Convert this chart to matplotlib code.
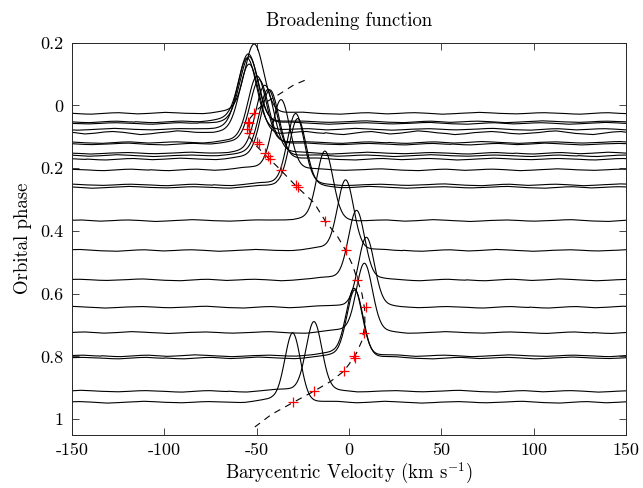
import numpy as np
import matplotlib
matplotlib.use("Agg")
import matplotlib.pyplot as plt

plt.rcParams['font.family'] = 'serif'
plt.rcParams['font.serif'] = ['cmr10']
plt.rcParams['mathtext.fontset'] = 'cm'
plt.rcParams['axes.unicode_minus'] = False
plt.rcParams['axes.formatter.use_mathtext'] = True

# ---- data ----
# broadening-function profiles: baseline phase, peak velocity (km/s), peak height (phase units), width (km/s)
bf_phase = [0.025, 0.052, 0.057, 0.076, 0.087, 0.118, 0.123, 0.152, 0.160, 0.171, 0.205, 0.253, 0.261,
            0.367, 0.462, 0.556, 0.643, 0.724, 0.798, 0.805, 0.911, 0.946]
bf_vel = [-51.3, -54.5, -54.0, -55.1, -54.0, -49.7, -48.6, -45.5, -43.7, -42.8, -36.8, -28.9, -27.8,
          -13.0, -1.8, 4.1, 9.4, 8.3, 2.8, 3.2, -19.0, -30.5]
bf_height = [0.210, 0.205, 0.200, 0.215, 0.205, 0.200, 0.195, 0.205, 0.200, 0.210, 0.215, 0.215, 0.210,
             0.209, 0.215, 0.212, 0.211, 0.210, 0.205, 0.207, 0.209, 0.210]
bf_width = [5.0, 5.0, 5.0, 5.0, 5.0, 4.8, 4.8, 4.8, 4.8, 4.8, 4.6, 4.5, 4.5,
            4.3, 4.3, 4.3, 4.3, 4.3, 4.3, 4.3, 4.2, 4.2]

# baseline ripple (1e-3 phase units) every 5 km/s from -150 to 150
ripple_v = list(range(-150, 155, 5))
ripple = [0, 2, 3, 1, -1, -2, 0, 2, 1, -1, -3, -2, 0, 1, 3, 2, 0, -1, -2, -1, 1, 2, 1, 0, -2, -3, -1, 1, 2, 3, 1,
          -1, -2, 0, 2, 1, -1, -2, -1, 1, 3, 2, 0, -1, -3, -2, 0, 1, 2, 1, -1, -2, -1, 0, 2, 3, 1, -1, -2, 0, 1]

# measured radial velocities (red crosses)
rv_vel = [-51.3, -54.5, -54.0, -55.1, -54.0, -49.7, -48.6, -45.5, -43.7, -42.8, -36.8, -28.9, -27.8,
          -13.0, -1.8, 4.1, 9.4, 8.3, 2.8, 3.2, -2.6, -19.0, -30.5]
rv_phase = [0.025, 0.052, 0.057, 0.076, 0.087, 0.118, 0.123, 0.152, 0.160, 0.171, 0.205, 0.253, 0.261,
            0.367, 0.462, 0.556, 0.643, 0.724, 0.798, 0.805, 0.848, 0.911, 0.946]

# orbital solution (dashed)
orb_phase = [-0.08, -0.065, -0.035, -0.01, 0.015, 0.04, 0.07, 0.10, 0.13, 0.16, 0.20, 0.255, 0.31, 0.367,
             0.42, 0.462, 0.51, 0.556, 0.60, 0.65, 0.70, 0.75, 0.79, 0.825, 0.848, 0.88, 0.911, 0.946, 0.985, 1.025]
orb_vel = [-24, -30, -38, -45, -50, -53.5, -55, -54, -50, -45, -38, -29, -19, -13,
           -6, -1.8, 2, 4.5, 7, 8.5, 8.6, 7, 4, 0, -3, -10, -19, -30, -42, -51]

yticks = [-0.2, 0, 0.2, 0.4, 0.6, 0.8, 1]
ytick_labels = ['0.2', '0', '0.2', '0.4', '0.6', '0.8', '1']
xticks = [-150, -100, -50, 0, 50, 100, 150]
xtick_labels = ['-150', '-100', '-50', '0', '50', '100', '150']

# ---- figure ----
fig = plt.figure(figsize=(6.43, 4.88), dpi=100)
ax = fig.add_axes([0.112, 0.109, 0.8616, 0.8035])

v = np.linspace(-150, 150, 1201)
rip = np.interp(v, ripple_v, ripple) * 1e-3
n = len(v)
for i, (ph, vc, h, w) in enumerate(zip(bf_phase, bf_vel, bf_height, bf_width)):
    shift = (i * 137) % n
    base = np.roll(rip, shift) * (1.0 if i != 4 else 2.0)
    prof = h * np.exp(-0.5 * ((v - vc) / w) ** 2) + 0.012 * np.exp(-0.5 * ((v - vc + 4) / 12) ** 2)
    ax.plot(v, ph - prof + base, color='k', lw=0.8)

ax.plot(orb_vel, orb_phase, color='k', lw=0.8, linestyle=(0, (6, 5)))
ax.plot(rv_vel, rv_phase, linestyle='none', marker='+', color='red', ms=7, mew=0.9)

ax.set_xlim(-150, 150)
ax.set_ylim(1.05, -0.2)
ax.set_xticks(xticks)
ax.set_xticklabels(xtick_labels)
ax.set_yticks(yticks)
ax.set_yticklabels(ytick_labels)
ax.tick_params(direction='in', top=True, right=True, length=5, width=0.6, labelsize=13, colors='#262626', pad=6)
for tl in ax.get_xticklabels() + ax.get_yticklabels():
    tl.set_color('k')
for s in ax.spines.values():
    s.set_linewidth(0.7)
    s.set_color('#262626')

ax.set_title('Broadening function', fontsize=13.5, pad=12)
ax.set_xlabel('Barycentric Velocity (km s$^{-1}$)', fontsize=13.5, labelpad=2)
ax.set_ylabel('Orbital phase', fontsize=13.5, labelpad=6)

fig.savefig('out.png', dpi=100)
